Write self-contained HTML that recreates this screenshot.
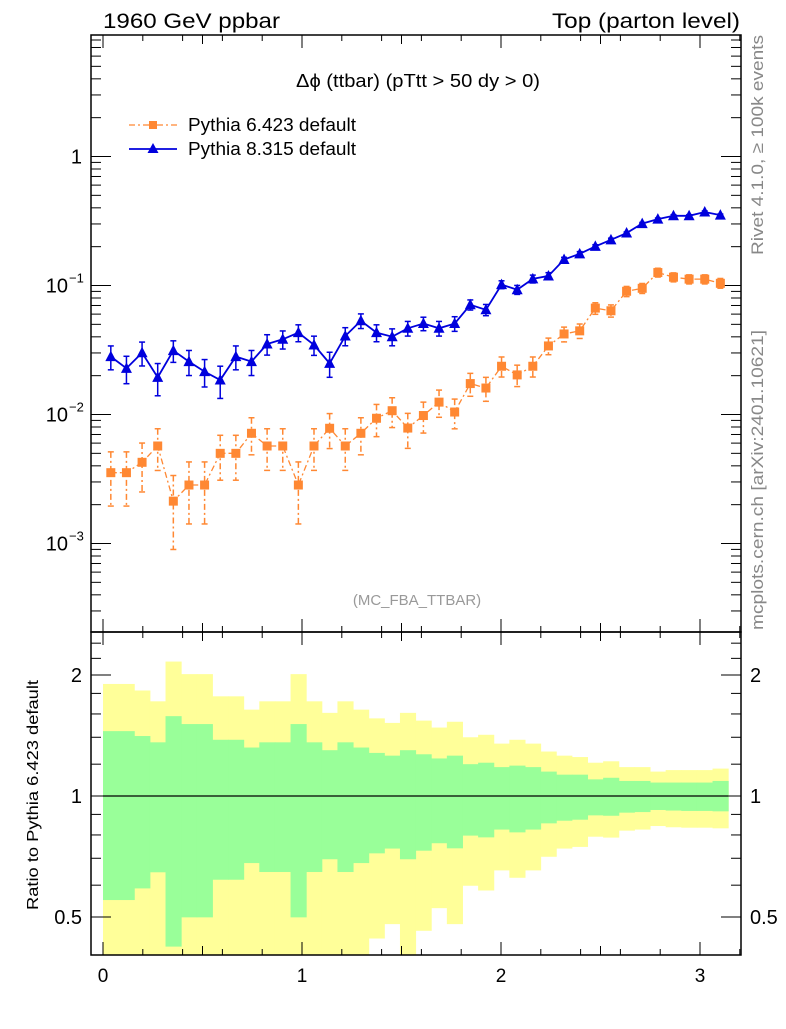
<!DOCTYPE html>
<html><head><meta charset="utf-8"><style>
body{margin:0;background:#fff;}
svg text{font-family:"Liberation Sans",sans-serif;}
</style></head><body>
<svg id="c" width="786" height="1024" xmlns="http://www.w3.org/2000/svg"></svg>
<script>
const binsN = 40;
const orange = [0.00354,0.00354,0.00426,0.00570,0.00213,0.00284,0.00284,0.00500,0.00500,0.00715,0.00570,0.00570,0.00284,0.00570,0.00782,0.00570,0.00715,0.00935,0.0107,0.00785,0.00982,0.01247,0.01045,0.01737,0.01604,0.02366,0.02027,0.02366,0.0340,0.0421,0.0445,0.0668,0.0637,0.0902,0.0951,0.126,0.116,0.112,0.112,0.104];
const orangeErrUp = [0.45,0.45,0.41,0.36,0.58,0.51,0.51,0.38,0.38,0.32,0.36,0.36,0.51,0.36,0.30,0.36,0.32,0.28,0.26,0.30,0.27,0.24,0.26,0.20,0.21,0.18,0.19,0.18,0.15,0.13,0.13,0.10,0.11,0.09,0.09,0.08,0.08,0.08,0.08,0.09];
const blue = [0.0281,0.0228,0.0301,0.0194,0.0313,0.0257,0.0215,0.0185,0.0281,0.0257,0.0352,0.0383,0.0431,0.0346,0.0249,0.0406,0.0533,0.0431,0.0401,0.0466,0.0507,0.0466,0.0507,0.0709,0.0648,0.1016,0.0927,0.1125,0.1186,0.159,0.176,0.201,0.226,0.255,0.302,0.327,0.347,0.347,0.371,0.351];
const blueErr = [0.21,0.24,0.21,0.28,0.19,0.22,0.24,0.28,0.21,0.22,0.18,0.16,0.15,0.17,0.22,0.16,0.13,0.15,0.15,0.13,0.12,0.13,0.13,0.09,0.1,0.07,0.08,0.07,0.06,0.04,0.04,0.03,0.03,0.02,0.02,0.02,0.02,0.02,0.02,0.02];
const greenTop = [1.45,1.45,1.41,1.36,1.58,1.51,1.51,1.38,1.38,1.32,1.36,1.36,1.51,1.36,1.30,1.36,1.32,1.28,1.26,1.30,1.27,1.24,1.26,1.20,1.21,1.18,1.19,1.18,1.15,1.13,1.13,1.10,1.11,1.09,1.09,1.08,1.08,1.08,1.08,1.09];
const greenBot = [0.551,0.551,0.589,0.646,0.422,0.499,0.499,0.619,0.619,0.681,0.647,0.647,0.499,0.647,0.696,0.647,0.681,0.720,0.740,0.696,0.731,0.763,0.741,0.797,0.789,0.825,0.812,0.825,0.855,0.868,0.873,0.895,0.893,0.909,0.912,0.923,0.920,0.918,0.918,0.916];
const yellowTop = [1.90,1.90,1.83,1.72,2.16,2.01,2.01,1.77,1.77,1.64,1.72,1.72,2.01,1.72,1.61,1.72,1.64,1.56,1.52,1.61,1.54,1.48,1.53,1.40,1.42,1.35,1.38,1.35,1.29,1.26,1.25,1.21,1.22,1.18,1.18,1.15,1.16,1.16,1.16,1.17];
const yellowBot = [0.3,0.3,0.3,0.3,0.3,0.3,0.3,0.3,0.3,0.3,0.3,0.3,0.3,0.3,0.3,0.3,0.3,0.442,0.480,0.3,0.462,0.526,0.480,0.598,0.582,0.653,0.626,0.653,0.706,0.740,0.747,0.792,0.788,0.820,0.825,0.842,0.836,0.834,0.834,0.831];
const xTicks = [0,1,2,3];
const mainTicks = [1,0.1,0.01,0.001];
const mainTickLabels = ["1","10","10","10"];
const mainTickExp = ["","−1","−2","−3"];
const ratioTicks = [2,1,0.5];
const ratioTickLabels = ["2","1","0.5"];

const NS="http://www.w3.org/2000/svg";
const svg=document.getElementById('c');
function mk(tag,attrs,parent){const e=document.createElementNS(NS,tag);for(const k in attrs)e.setAttribute(k,attrs[k]);(parent||svg).appendChild(e);return e;}
const L=91,R=741,T=35,MB=632,RB=955;
const xs=v=>103+v*199;
const ys=v=>285.5-(Math.log10(v)+1)*129;
const rs=v=>796-Math.log2(v)*121;
const bw=Math.PI/binsN;

const gRatio=mk('g',{'clip-path':'url(#rc)'});
const cp=mk('clipPath',{id:'rc'});mk('rect',{x:L,y:MB,width:R-L,height:RB-MB},cp);
for(let i=0;i<binsN;i++){
  const x0=xs(i*bw),x1=xs((i+1)*bw);
  const y1=mk('rect',{x:x0,y:rs(yellowTop[i]),width:x1-x0+0.5,height:rs(yellowBot[i])-rs(yellowTop[i]),fill:'#ffff99'},gRatio);
  
  
}
for(let i=0;i<binsN;i++){
  const x0=xs(i*bw),x1=xs((i+1)*bw);
  const g1=mk('rect',{x:x0,y:rs(greenTop[i]),width:x1-x0+0.5,height:rs(greenBot[i])-rs(greenTop[i]),fill:'#99ff99'},gRatio);
  
  
}
mk('line',{x1:xs(0),x2:xs(Math.PI),y1:rs(1),y2:rs(1),stroke:'#000','stroke-width':1.3});

const f1=mk('rect',{x:L,y:T,width:R-L,height:MB-T,fill:'none',stroke:'#000','stroke-width':1.5});

const f2=mk('rect',{x:L,y:MB,width:R-L,height:RB-MB,fill:'none',stroke:'#000','stroke-width':1.5});


for(let k=0;k<=32;k++){
  const v=k/10;const x=xs(v);if(x<L||x>R)continue;
  const major=k%10===0, mid=k%5===0;
  const len=major?13:(mid?9:6);
  if(k%2===0||mid){
  [[T,1],[MB,-1],[MB,1],[RB,-1]].forEach(([y,d])=>mk('line',{x1:x,x2:x,y1:y,y2:y+d*len,stroke:'#000','stroke-width':1}));}
}
xTicks.forEach(v=>{const t=mk('text',{x:xs(v),y:982,'font-size':19,'text-anchor':'middle'});t.textContent=v;
});

for(let d=-4;d<=0;d++){for(let m=1;m<=9;m++){const v=m*Math.pow(10,d);const y=ys(v);if(y<T||y>MB)continue;const len=m===1?20:10;
mk('line',{x1:L,x2:L+len,y1:y,y2:y,stroke:'#000','stroke-width':1});mk('line',{x1:R,x2:R-len,y1:y,y2:y,stroke:'#000','stroke-width':1});}}
mainTicks.forEach((v,i)=>{const t=mk('text',{x:mainTickExp[i]?68:82,y:ys(v)+7,'font-size':20,'text-anchor':'end'});t.textContent=mainTickLabels[i];

if(mainTickExp[i]){const e=mk('text',{x:69,y:ys(v)-3,'font-size':13});e.textContent=mainTickExp[i];}});

[0.4,0.5,0.6,0.7,0.8,0.9,1,1.2,1.4,1.6,1.8,2,2.2,2.4].forEach(v=>{const y=rs(v);if(y<MB||y>RB)return;const len=(v===0.5||v===1||v===2)?20:10;
mk('line',{x1:L,x2:L+len,y1:y,y2:y,stroke:'#000','stroke-width':1});mk('line',{x1:R,x2:R-len,y1:y,y2:y,stroke:'#000','stroke-width':1});});
ratioTicks.forEach((v,i)=>{[[82,'end'],[750,'start']].forEach(([x,a])=>{const t=mk('text',{x:x,y:rs(v)+7,'font-size':20,'text-anchor':a});t.textContent=ratioTickLabels[i];
});});

function series(vals,up,dn,color,dash,marker,name){
  const g=mk('g',{});
  
  
  const pts=vals.map((v,i)=>[xs((i+0.5)*bw),ys(v)]);
  mk('polyline',{points:pts.map(p=>p.join(',')).join(' '),fill:'none',stroke:color,'stroke-width':dash?1.3:1.8,'stroke-dasharray':dash||'none'},g);
  vals.forEach((v,i)=>{const x=pts[i][0];const yu=ys(v*(1+up[i])),yd=ys(v*Math.max(0.05,1-dn[i]));
    mk('line',{x1:x,x2:x,y1:yu,y2:yd,stroke:color,'stroke-width':1.5,'stroke-dasharray':dash||'none'},g);
    mk('line',{x1:x-3,x2:x+3,y1:yu,y2:yu,stroke:color,'stroke-width':1.5},g);
    mk('line',{x1:x-3,x2:x+3,y1:yd,y2:yd,stroke:color,'stroke-width':1.5},g);
    let m;
    if(marker==='sq'){m=mk('rect',{x:x-4.5,y:pts[i][1]-4.5,width:9,height:9,fill:color},g);}
    else{const y=pts[i][1];m=mk('polygon',{points:`${x},${y-6} ${x-5.5},${y+4.5} ${x+5.5},${y+4.5}`,fill:color},g);}
    
    
  });
}
const orangeDn=greenBot.map(v=>1-v);
series(orange,orangeErrUp,orangeDn,'#ff8833','6,3,2,3','sq','pythia6-series');
series(blue,blueErr,blueErr,'#0000dd',null,'tri','pythia8-series');

function txt(s,attrs,name){const t=mk('text',attrs);t.textContent=s;return t;}
txt('1960 GeV ppbar',{x:103,y:28,'font-size':21,textLength:177,lengthAdjust:'spacingAndGlyphs'},'beam-label');
txt('Top (parton level)',{x:552,y:28,'font-size':21,textLength:188,lengthAdjust:'spacingAndGlyphs'},'process-label');
txt('Δϕ (ttbar) (pTtt > 50 dy > 0)',{x:296,y:87,'font-size':18,textLength:244,lengthAdjust:'spacingAndGlyphs'},'plot-title');
mk('line',{x1:129,x2:177,y1:125,y2:125,stroke:'#ff8833','stroke-width':1.3,'stroke-dasharray':'6,3,2,3'});
mk('rect',{x:149,y:121,width:8,height:8,fill:'#ff8833'});
txt('Pythia 6.423 default',{x:188,y:131,'font-size':18,textLength:168,lengthAdjust:'spacingAndGlyphs'},'legend-entry-pythia6');
mk('line',{x1:129,x2:177,y1:149,y2:149,stroke:'#0000dd','stroke-width':1.8});
mk('polygon',{points:'153,143 147.5,153 158.5,153',fill:'#0000dd'});
txt('Pythia 8.315 default',{x:188,y:155,'font-size':18,textLength:168,lengthAdjust:'spacingAndGlyphs'},'legend-entry-pythia8');
txt('(MC_FBA_TTBAR)',{x:417,y:605,'font-size':15,'text-anchor':'middle',fill:'#999'},'analysis-label');
txt('Rivet 4.1.0, ≥ 100k events',{transform:'translate(763,255) rotate(-90)','font-size':17,fill:'#888',textLength:220,lengthAdjust:'spacingAndGlyphs'},'rivet-label');
txt('mcplots.cern.ch [arXiv:2401.10621]',{transform:'translate(763,630) rotate(-90)','font-size':17,fill:'#888',textLength:300,lengthAdjust:'spacingAndGlyphs'},'mcplots-label');
txt('Ratio to Pythia 6.423 default',{transform:'translate(38,910) rotate(-90)','font-size':16,textLength:230,lengthAdjust:'spacingAndGlyphs'},'ratio-y-axis-title');
</script>
</body></html>
